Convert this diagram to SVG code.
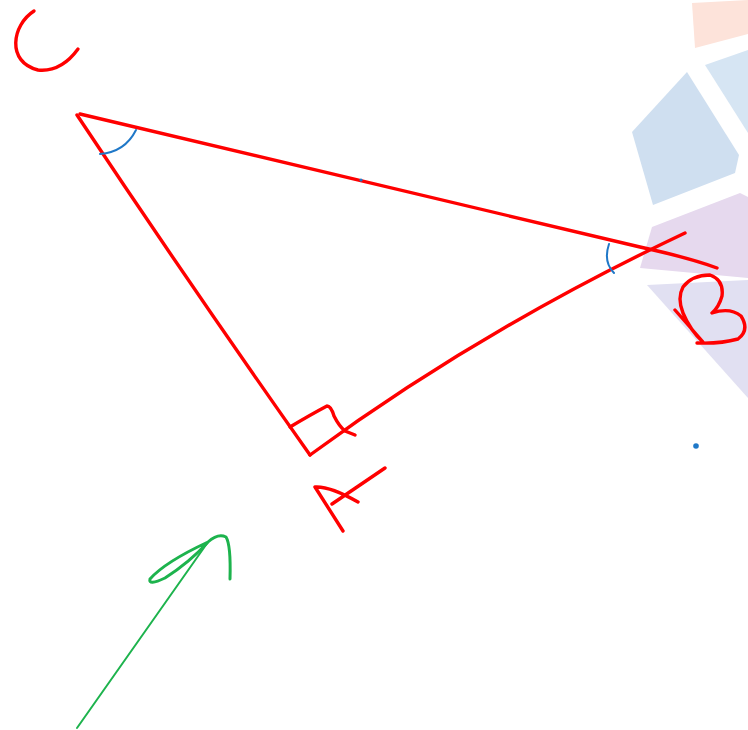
<svg xmlns="http://www.w3.org/2000/svg" width="748" height="730" viewBox="0 0 748 730">
<style>
.red{fill:none;stroke:#ff0000;stroke-width:3.4;stroke-linecap:round;stroke-linejoin:round}
.blue{fill:none;stroke:#1f78c8;stroke-width:2;stroke-linecap:round}
.green{fill:none;stroke:#1db34d;stroke-linecap:round;stroke-linejoin:round}
</style>
<rect width="748" height="730" fill="#ffffff"/>
<g id="background">
<polygon points="692,3 748,0 748,34 695,48" fill="#fde3da"/>
<polygon points="705,65 748,50 748,133" fill="#d6e5f3"/>
<polygon points="687,72 632,132 653,205 735,173 739,155" fill="#cfdff0"/>
<polygon points="652,227 740,193 748,197 748,278 640,268" fill="#e6d9ee"/>
<polygon points="647,285 748,280 748,398" fill="#e1e0f2"/>
</g>
<g id="triangle">
<path class="red" d="M80,114 Q400,190 640,247 Q690,258 717,268"/>
<path class="red" d="M77,115 Q190,285 310,455"/>
<path class="red" d="M310,455 Q480,330 685,233"/>
<path class="red" d="M290,427 Q310,415 327,406 Q331,406 334,416 Q339,426 345,431 L355,435"/>
</g>
<g id="label-C"><path class="red" d="M34,11 C12,25 6,62 38,70 C58,72 70,60 78,49"/></g>
<g id="label-A"><path class="red" d="M343,531 L315,487 Q330,486 358,502 M332,504 L385,468"/></g>
<g id="label-B"><path class="red" d="M675,310 Q690,327 703,342 Q690,330 683,313 Q677,298 683,287 Q692,275 710,275 Q724,280 722,296 Q719,307 712,313 Q730,307 741,316 Q750,330 738,339 Q720,344 697,343"/></g>
<g id="angles">
<path class="blue" d="M100,154 Q125,152 136,130"/>
<path class="blue" d="M609,244 Q603,262 614,273"/>
<circle cx="361" cy="180" r="1.6" fill="#1f78c8"/>
<circle cx="696" cy="446" r="2.8" fill="#1f78c8"/>
</g>
<g id="connectors">
<path class="green" stroke-width="2" d="M77,728 Q145,632 208,542"/>
<path class="green" stroke-width="3" d="M208,542 Q165,562 150,579 Q148,586 165,578 Q190,562 208,542 Q218,533 226,537 Q231,545 230,579"/>
</g>
</svg>
